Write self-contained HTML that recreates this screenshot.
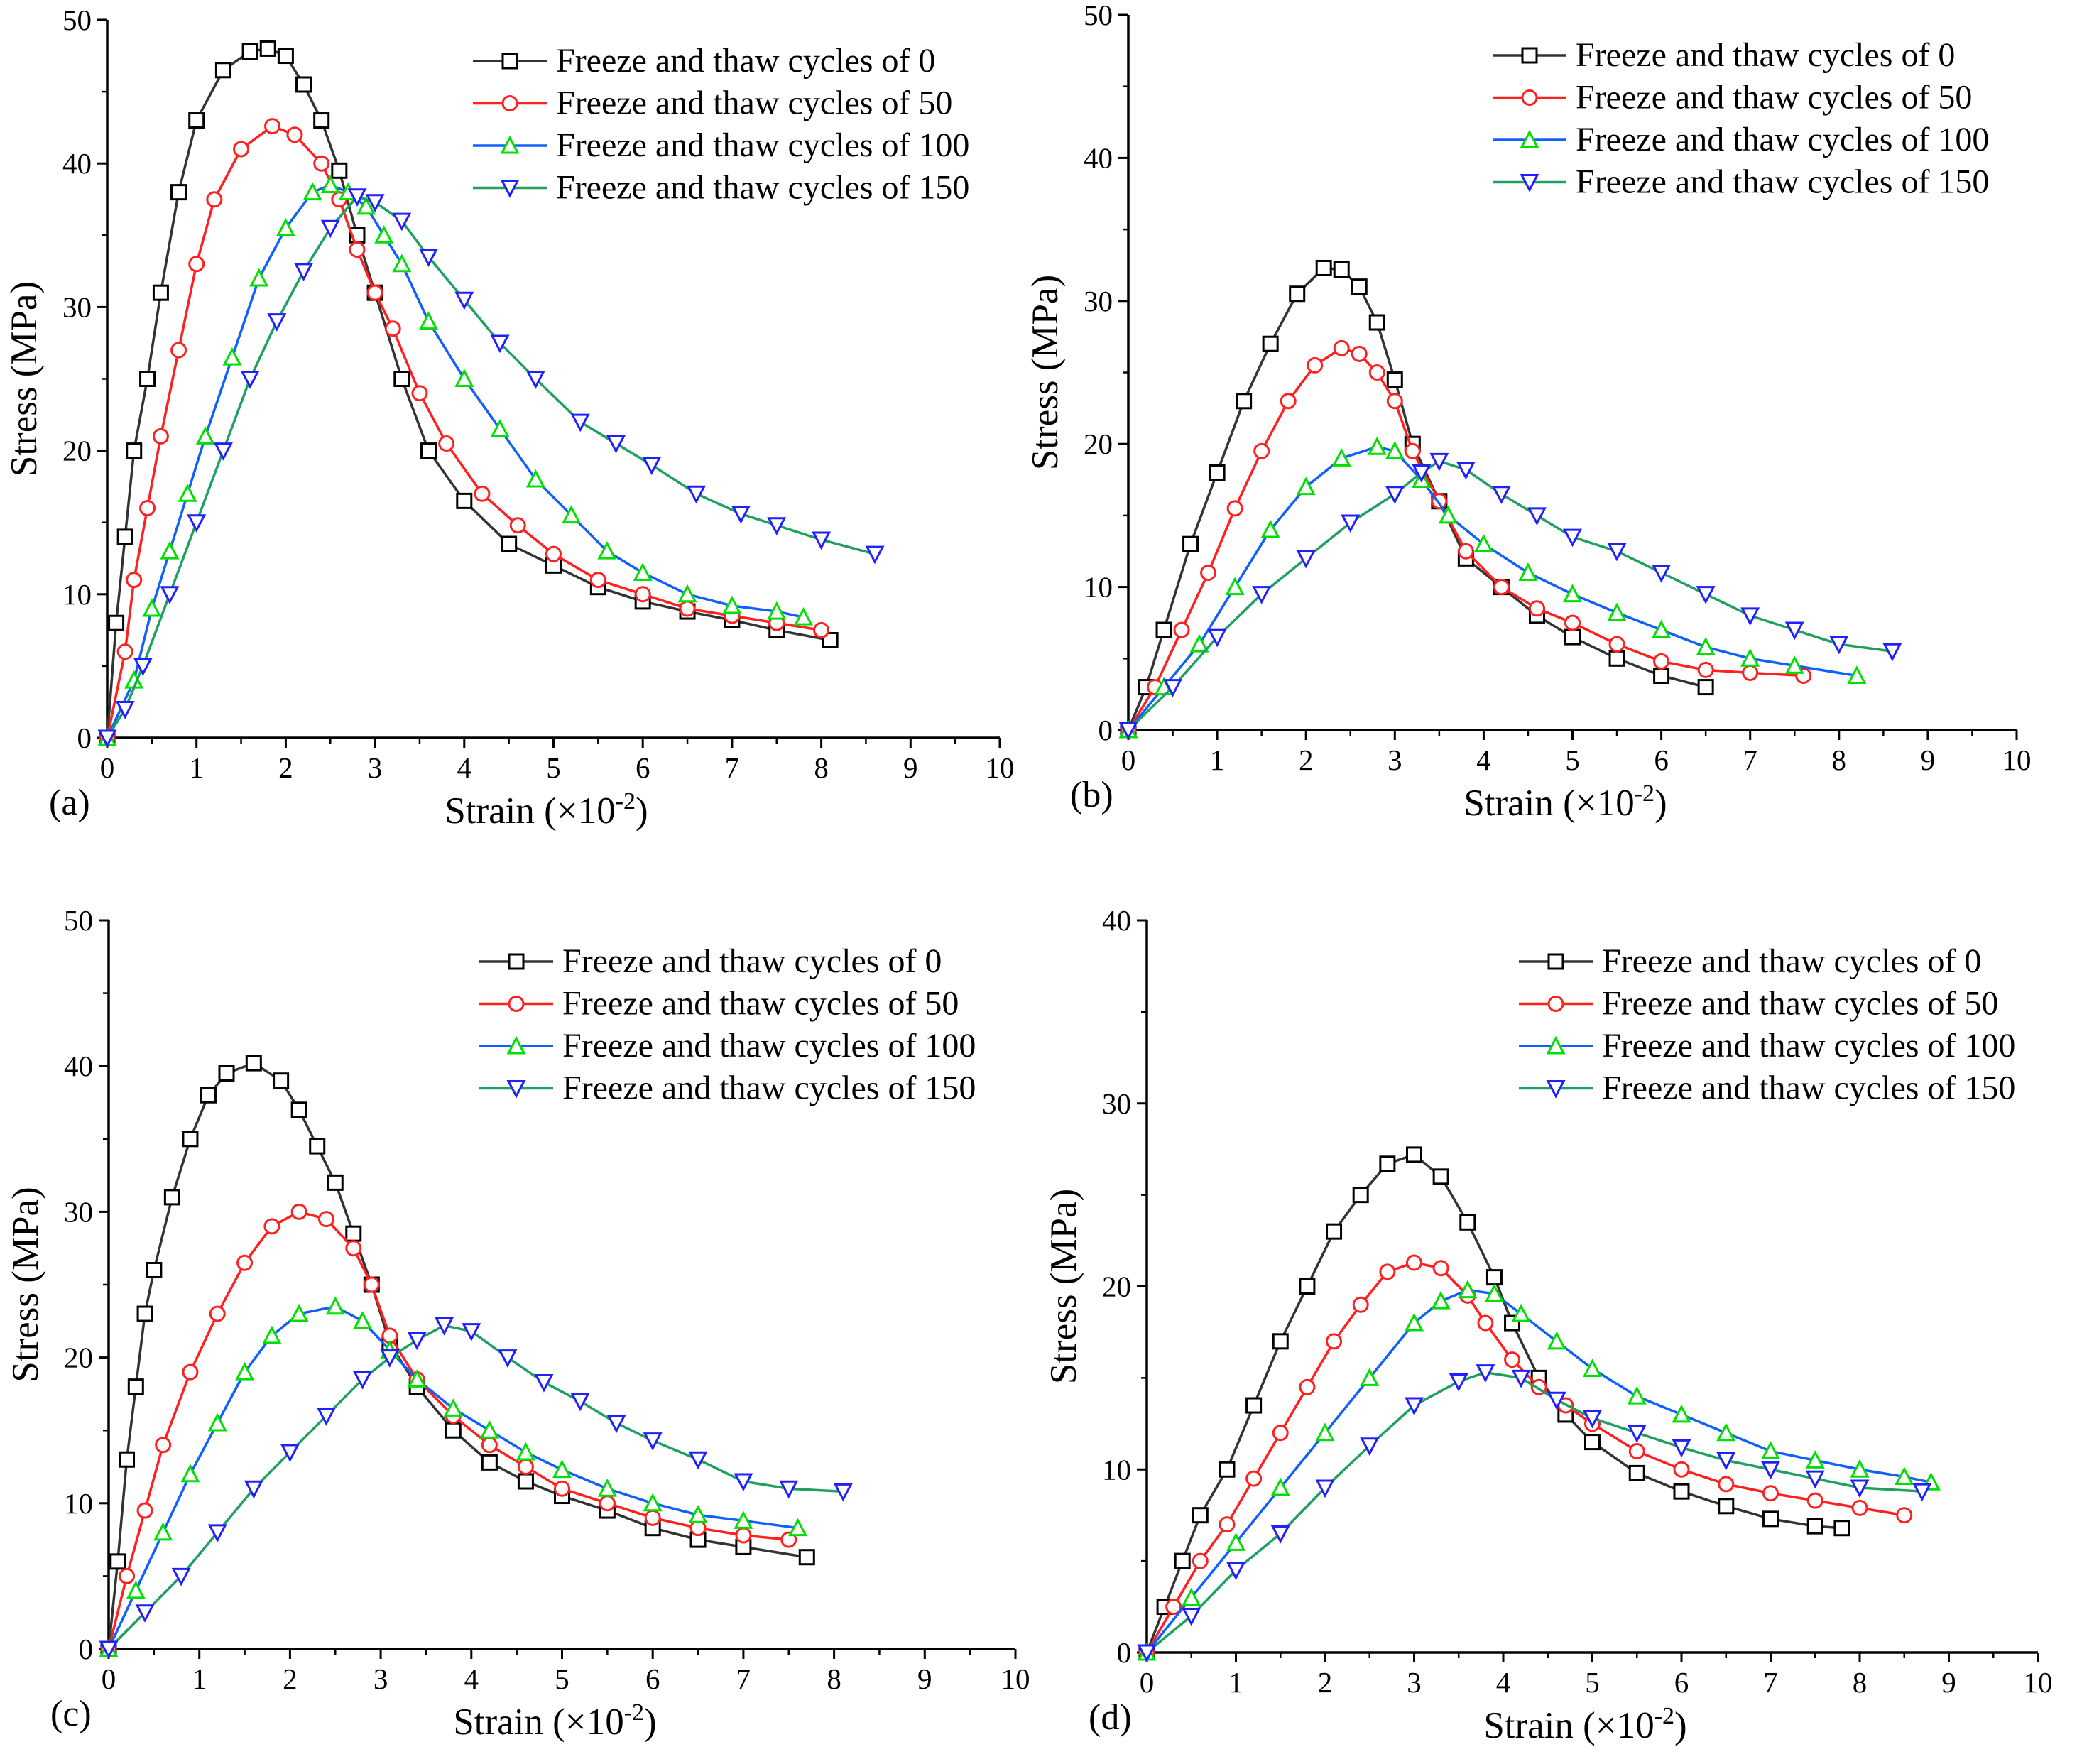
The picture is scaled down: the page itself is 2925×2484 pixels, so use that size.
<!DOCTYPE html>
<html><head><meta charset="utf-8">
<style>
html,body{margin:0;padding:0;background:#fff;}
svg{display:block;font-family:"Liberation Serif",serif;}
</style></head>
<body>
<svg id="fig" width="2925" height="2484" viewBox="0 0 2925 2484" xmlns="http://www.w3.org/2000/svg"></svg>
<script>
const seriesNames = ["Freeze and thaw cycles of 0","Freeze and thaw cycles of 50","Freeze and thaw cycles of 100","Freeze and thaw cycles of 150"];
const xTicks = [0,1,2,3,4,5,6,7,8,9,10];
const yTicks50 = [0,10,20,30,40,50];
const yTicks40 = [0,10,20,30,40];

// Panel (a)
const a0x=[0,0.1,0.2,0.3,0.45,0.6,0.8,1.0,1.3,1.6,1.8,2.0,2.2,2.4,2.6,2.8,3.0,3.3,3.6,4.0,4.5,5,5.5,6,6.5,7,7.5,8.1];
const a0y=[0,8,14,20,25,31,38,43,46.5,47.8,48,47.5,45.5,43,39.5,35,31,25,20,16.5,13.5,12,10.5,9.5,8.8,8.2,7.5,6.8];
const a1x=[0,0.2,0.3,0.45,0.6,0.8,1.0,1.2,1.5,1.85,2.1,2.4,2.6,2.8,3.0,3.2,3.5,3.8,4.2,4.6,5,5.5,6,6.5,7,7.5,8];
const a1y=[0,6,11,16,21,27,33,37.5,41,42.6,42,40,37.5,34,31,28.5,24,20.5,17,14.8,12.8,11,10,9,8.5,8,7.5];
const a2x=[0,0.3,0.5,0.7,0.9,1.1,1.4,1.7,2.0,2.3,2.5,2.7,2.9,3.1,3.3,3.6,4.0,4.4,4.8,5.2,5.6,6,6.5,7,7.5,7.8];
const a2y=[0,4,9,13,17,21,26.5,32,35.5,38,38.5,38,37,35,33,29,25,21.5,18,15.5,13,11.5,10,9.2,8.8,8.4];
const a3x=[0,0.2,0.4,0.7,1.0,1.3,1.6,1.9,2.2,2.5,2.8,3.0,3.3,3.6,4.0,4.4,4.8,5.3,5.7,6.1,6.6,7.1,7.5,8,8.6];
const a3y=[0,2,5,10,15,20,25,29,32.5,35.5,37.7,37.3,36,33.5,30.5,27.5,25,22,20.5,19,17,15.6,14.8,13.8,12.8];
// Panel (b)
const b0x=[0,0.2,0.4,0.7,1.0,1.3,1.6,1.9,2.2,2.4,2.6,2.8,3.0,3.2,3.5,3.8,4.2,4.6,5,5.5,6,6.5];
const b0y=[0,3,7,13,18,23,27,30.5,32.3,32.2,31,28.5,24.5,20,16,12,10,8,6.5,5,3.8,3];
const b1x=[0,0.3,0.6,0.9,1.2,1.5,1.8,2.1,2.4,2.6,2.8,3.0,3.2,3.5,3.8,4.2,4.6,5,5.5,6,6.5,7,7.6];
const b1y=[0,3,7,11,15.5,19.5,23,25.5,26.7,26.3,25,23,19.5,16,12.5,10,8.5,7.5,6,4.8,4.2,4,3.8];
const b2x=[0,0.4,0.8,1.2,1.6,2.0,2.4,2.8,3.0,3.3,3.6,4.0,4.5,5,5.5,6,6.5,7,7.5,8.2];
const b2y=[0,3,6,10,14,17,19,19.8,19.5,17.5,15,13,11,9.5,8.2,7,5.8,5,4.5,3.8];
const b3x=[0,0.5,1,1.5,2,2.5,3.0,3.3,3.5,3.8,4.2,4.6,5,5.5,6,6.5,7,7.5,8,8.6];
const b3y=[0,3,6.5,9.5,12,14.5,16.5,18,18.8,18.2,16.5,15,13.5,12.5,11,9.5,8,7,6,5.5];
// Panel (c)
const c0x=[0,0.1,0.2,0.3,0.4,0.5,0.7,0.9,1.1,1.3,1.6,1.9,2.1,2.3,2.5,2.7,2.9,3.1,3.4,3.8,4.2,4.6,5,5.5,6,6.5,7,7.7];
const c0y=[0,6,13,18,23,26,31,35,38,39.5,40.2,39,37,34.5,32,28.5,25,21,18,15,12.8,11.5,10.5,9.5,8.3,7.5,7,6.3];
const c1x=[0,0.2,0.4,0.6,0.9,1.2,1.5,1.8,2.1,2.4,2.7,2.9,3.1,3.4,3.8,4.2,4.6,5,5.5,6,6.5,7,7.5];
const c1y=[0,5,9.5,14,19,23,26.5,29,30,29.5,27.5,25,21.5,18.5,16,14,12.5,11,10,9,8.3,7.8,7.5];
const c2x=[0,0.3,0.6,0.9,1.2,1.5,1.8,2.1,2.5,2.8,3.1,3.4,3.8,4.2,4.6,5,5.5,6,6.5,7,7.6];
const c2y=[0,4,8,12,15.5,19,21.5,23,23.5,22.5,20.5,18.5,16.5,15,13.5,12.3,11,10,9.2,8.8,8.3];
const c3x=[0,0.4,0.8,1.2,1.6,2,2.4,2.8,3.1,3.4,3.7,4,4.4,4.8,5.2,5.6,6,6.5,7,7.5,8.1];
const c3y=[0,2.5,5,8,11,13.5,16,18.5,20,21.2,22.2,21.8,20,18.3,17,15.5,14.3,13,11.5,11,10.8];
// Panel (d)
const d0x=[0,0.2,0.4,0.6,0.9,1.2,1.5,1.8,2.1,2.4,2.7,3.0,3.3,3.6,3.9,4.1,4.4,4.7,5,5.5,6,6.5,7,7.5,7.8];
const d0y=[0,2.5,5,7.5,10,13.5,17,20,23,25,26.7,27.2,26,23.5,20.5,18,15,13,11.5,9.8,8.8,8,7.3,6.9,6.8];
const d1x=[0,0.3,0.6,0.9,1.2,1.5,1.8,2.1,2.4,2.7,3.0,3.3,3.6,3.8,4.1,4.4,4.7,5,5.5,6,6.5,7,7.5,8,8.5];
const d1y=[0,2.5,5,7,9.5,12,14.5,17,19,20.8,21.3,21,19.5,18,16,14.5,13.5,12.5,11,10,9.2,8.7,8.3,7.9,7.5];
const d2x=[0,0.5,1,1.5,2,2.5,3,3.3,3.6,3.9,4.2,4.6,5,5.5,6,6.5,7,7.5,8,8.5,8.8];
const d2y=[0,3,6,9,12,15,18,19.2,19.8,19.6,18.5,17,15.5,14,13,12,11,10.5,10,9.6,9.3];
const d3x=[0,0.5,1,1.5,2,2.5,3,3.5,3.8,4.2,4.6,5,5.5,6,6.5,7,7.5,8,8.7];
const d3y=[0,2,4.5,6.5,9,11.3,13.5,14.8,15.3,15,13.8,12.8,12,11.2,10.5,10,9.5,9,8.8];

const NS="http://www.w3.org/2000/svg";
const svg=document.getElementById('fig');
function mk(tag,attrs,parent){const e=document.createElementNS(NS,tag);for(const k in attrs)e.setAttribute(k,attrs[k]);(parent||svg).appendChild(e);return e;}

const lineColors=["#333333","#ff2020","#1060ff","#20a060"];
const markColors=["#000000","#ff2020","#00e000","#2020ff"];

function marker(g,type,x,y,c){
  const s=10;
  let m;
  if(type===0) m=mk('rect',{x:x-s,y:y-s,width:2*s,height:2*s,fill:'#fff',stroke:c,'stroke-width':3},g);
  else if(type===1) m=mk('circle',{cx:x,cy:y,r:s,fill:'#fff',stroke:c,'stroke-width':3},g);
  else if(type===2) m=mk('polygon',{points:`${x},${y-s-1} ${x-s-1},${y+s} ${x+s+1},${y+s}`,fill:'#fff',stroke:c,'stroke-width':3},g);
  else m=mk('polygon',{points:`${x},${y+s+1} ${x-s-1},${y-s} ${x+s+1},${y-s}`,fill:'#fff',stroke:c,'stroke-width':3},g);
  return m;
}

function panel(p){
  const g=mk('g',{});
  
  
  const sx=v=>p.x0+(p.x1-p.x0)*v/10;
  const sy=v=>p.y0-(p.y0-p.y1)*v/p.ymax;
  const ax=mk('path',{d:`M${p.x0},${p.y1} L${p.x0},${p.y0} L${p.x1},${p.y0}`,fill:'none',stroke:'#000','stroke-width':3.5},g);
  
  
  xTicks.forEach(t=>{
    mk('line',{x1:sx(t),y1:p.y0,x2:sx(t),y2:p.y0+14,stroke:'#000','stroke-width':3},g);
    if(t<10) mk('line',{x1:sx(t+0.5),y1:p.y0,x2:sx(t+0.5),y2:p.y0+8,stroke:'#000','stroke-width':2.5},g);
    const tx=mk('text',{x:sx(t),y:p.y0+56,'text-anchor':'middle','font-size':41,fill:'#000'},g);
    tx.textContent=t;
    
    
  });
  p.yt.forEach((t,i)=>{
    mk('line',{x1:p.x0-14,y1:sy(t),x2:p.x0,y2:sy(t),stroke:'#000','stroke-width':3},g);
    if(i<p.yt.length-1) mk('line',{x1:p.x0-8,y1:sy(t+5),x2:p.x0,y2:sy(t+5),stroke:'#000','stroke-width':2.5},g);
    const tx=mk('text',{x:p.x0-22,y:sy(t)+14,'text-anchor':'end','font-size':41,fill:'#000'},g);
    tx.textContent=t;
    
    
  });
  const yt=mk('text',{x:0,y:0,transform:`translate(${p.x0-100},${(p.y0+p.y1)/2}) rotate(-90)`,'text-anchor':'middle','font-size':53,fill:'#000'},g);
  yt.textContent='Stress (MPa)';
  
  
  const xt=mk('text',{x:(p.x0+p.x1)/2-10,y:p.y0+120,'text-anchor':'middle','font-size':53,fill:'#000'},g);
  xt.innerHTML='Strain (×10<tspan dy="-20" font-size="34">-2</tspan><tspan dy="20">)</tspan>';
  
  
  const pl=mk('text',{x:p.x0-82,y:p.y0+108,'font-size':52,fill:'#000'},g);
  pl.textContent='('+p.id+')';
  
  
  p.series.forEach((s,k)=>{
    const sg=mk('g',{},g);
    
    
    const pts=s[0].map((v,i)=>sx(v)+','+sy(s[1][i])).join(' ');
    mk('polyline',{points:pts,fill:'none',stroke:lineColors[k],'stroke-width':3.5},sg);
    s[0].forEach((v,i)=>{const m=marker(sg,k,sx(v),sy(s[1][i]),markColors[k]);
      
      });
  });
  const lg=mk('g',{},g);
  
  
  seriesNames.forEach((n,k)=>{
    const y=p.ly+k*59.5;
    const e=mk('g',{},lg);
    
    
    mk('line',{x1:p.lx,y1:y,x2:p.lx+104,y2:y,stroke:lineColors[k],'stroke-width':3.5},e);
    marker(e,k,p.lx+52,y,markColors[k]);
    const t=mk('text',{x:p.lx+117,y:y+15,'font-size':48,fill:'#000'},e);
    t.textContent=n;
  });
}

panel({id:'a',x0:151,x1:1408,y0:1039,y1:28,ymax:50,yt:yTicks50,lx:666,ly:86,
  series:[[a0x,a0y],[a1x,a1y],[a2x,a2y],[a3x,a3y]]});
panel({id:'b',x0:1589,x1:2840,y0:1028,y1:21,ymax:50,yt:yTicks50,lx:2102,ly:78,
  series:[[b0x,b0y],[b1x,b1y],[b2x,b2y],[b3x,b3y]]});
panel({id:'c',x0:153,x1:1430,y0:2322,y1:1296,ymax:50,yt:yTicks50,lx:675,ly:1354,
  series:[[c0x,c0y],[c1x,c1y],[c2x,c2y],[c3x,c3y]]});
panel({id:'d',x0:1615,x1:2870,y0:2327,y1:1296,ymax:40,yt:yTicks40,lx:2139,ly:1354,
  series:[[d0x,d0y],[d1x,d1y],[d2x,d2y],[d3x,d3y]]});
</script>
</body></html>
